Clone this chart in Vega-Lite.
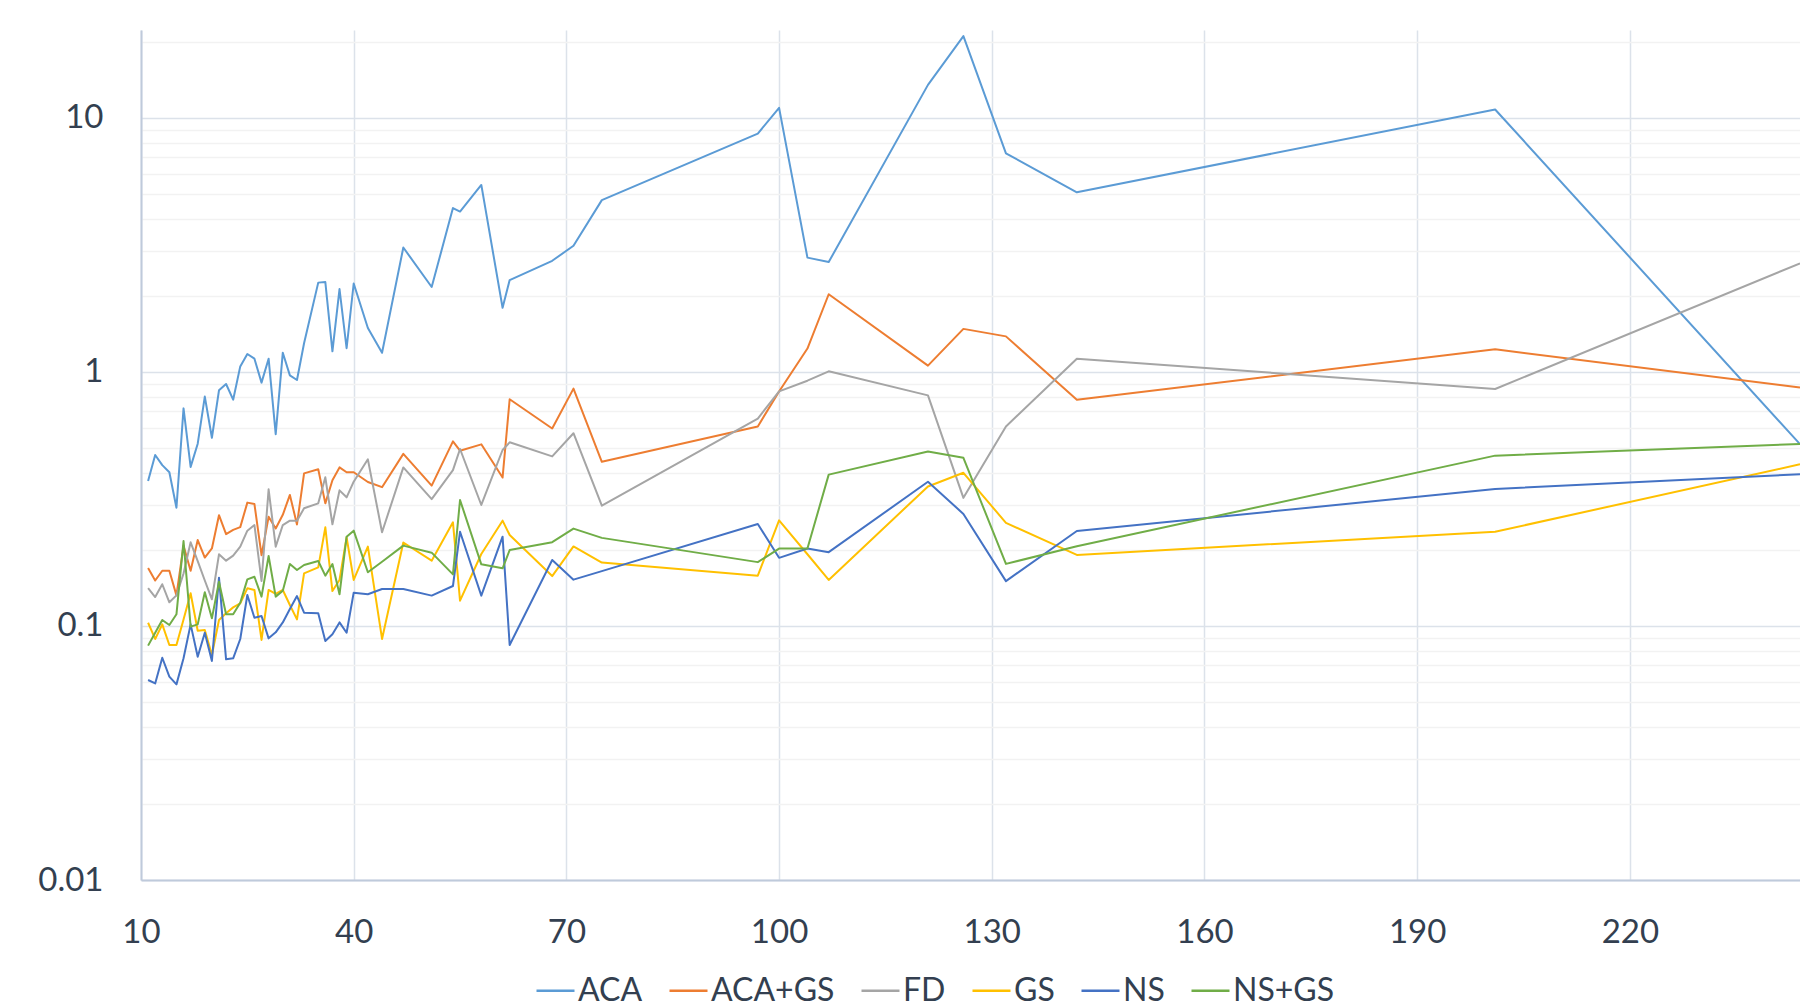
{
  "$schema": "https://vega.github.io/schema/vega-lite/v6.json",
  "width": 1659,
  "height": 850,
  "autosize": {"type": "none"},
  "padding": {"left": 141, "top": 30, "right": 0, "bottom": 127},
  "background": "white",
  "config": {"view": {"stroke": null}, "font": "Lato"},
  "data": {
    "values": [
      {"n": 11, "ACA": 0.372, "ACA+GS": 0.169, "FD": 0.141, "GS": 0.103, "NS": 0.0613, "NS+GS": 0.0837},
      {"n": 12, "ACA": 0.471, "ACA+GS": 0.151, "FD": 0.130, "GS": 0.0889, "NS": 0.0594, "NS+GS": 0.0941},
      {"n": 13, "ACA": 0.430, "ACA+GS": 0.165, "FD": 0.146, "GS": 0.1015, "NS": 0.075, "NS+GS": 0.1056},
      {"n": 14, "ACA": 0.403, "ACA+GS": 0.165, "FD": 0.124, "GS": 0.0842, "NS": 0.0632, "NS+GS": 0.1009},
      {"n": 15, "ACA": 0.292, "ACA+GS": 0.132, "FD": 0.132, "GS": 0.0842, "NS": 0.0589, "NS+GS": 0.1112},
      {"n": 16, "ACA": 0.719, "ACA+GS": 0.207, "FD": 0.161, "GS": 0.106, "NS": 0.0746, "NS+GS": 0.2161},
      {"n": 17, "ACA": 0.423, "ACA+GS": 0.165, "FD": 0.2135, "GS": 0.1345, "NS": 0.1015, "NS+GS": 0.0994},
      {"n": 18, "ACA": 0.522, "ACA+GS": 0.218, "FD": 0.18, "GS": 0.0958, "NS": 0.0757, "NS+GS": 0.1015},
      {"n": 19, "ACA": 0.800, "ACA+GS": 0.186, "FD": 0.151, "GS": 0.0965, "NS": 0.0941, "NS+GS": 0.1357},
      {"n": 20, "ACA": 0.551, "ACA+GS": 0.202, "FD": 0.1274, "GS": 0.0769, "NS": 0.0728, "NS+GS": 0.1072},
      {"n": 21, "ACA": 0.847, "ACA+GS": 0.273, "FD": 0.1915, "GS": 0.1056, "NS": 0.155, "NS+GS": 0.1494},
      {"n": 22, "ACA": 0.897, "ACA+GS": 0.230, "FD": 0.1808, "GS": 0.1122, "NS": 0.0739, "NS+GS": 0.1112},
      {"n": 23, "ACA": 0.778, "ACA+GS": 0.239, "FD": 0.1892, "GS": 0.1184, "NS": 0.0746, "NS+GS": 0.1112},
      {"n": 24, "ACA": 1.052, "ACA+GS": 0.245, "FD": 0.2053, "GS": 0.1228, "NS": 0.0889, "NS+GS": 0.1235},
      {"n": 25, "ACA": 1.177, "ACA+GS": 0.306, "FD": 0.2373, "GS": 0.1407, "NS": 0.1324, "NS+GS": 0.1526},
      {"n": 26, "ACA": 1.128, "ACA+GS": 0.302, "FD": 0.2497, "GS": 0.1386, "NS": 0.1078, "NS+GS": 0.1563},
      {"n": 27, "ACA": 0.908, "ACA+GS": 0.190, "FD": 0.1504, "GS": 0.0881, "NS": 0.1095, "NS+GS": 0.1305},
      {"n": 28, "ACA": 1.128, "ACA+GS": 0.269, "FD": 0.3453, "GS": 0.1386, "NS": 0.0894, "NS+GS": 0.1886},
      {"n": 29, "ACA": 0.569, "ACA+GS": 0.242, "FD": 0.2053, "GS": 0.1337, "NS": 0.0944, "NS+GS": 0.1305},
      {"n": 30, "ACA": 1.191, "ACA+GS": 0.274, "FD": 0.2497, "GS": 0.1386, "NS": 0.1033, "NS+GS": 0.1377},
      {"n": 31, "ACA": 0.970, "ACA+GS": 0.328, "FD": 0.2598, "GS": 0.121, "NS": 0.1166, "NS+GS": 0.1754},
      {"n": 32, "ACA": 0.930, "ACA+GS": 0.251, "FD": 0.2598, "GS": 0.1062, "NS": 0.1312, "NS+GS": 0.1662},
      {"n": 33, "ACA": 1.297, "ACA+GS": 0.399, "FD": 0.2906, "GS": 0.1612, "NS": 0.1128, "NS+GS": 0.1738},
      {"n": 35, "ACA": 2.248, "ACA+GS": 0.414, "FD": 0.304, "GS": 0.1702, "NS": 0.1122, "NS+GS": 0.1802},
      {"n": 36, "ACA": 2.26, "ACA+GS": 0.304, "FD": 0.3849, "GS": 0.2446, "NS": 0.0873, "NS+GS": 0.1578},
      {"n": 37, "ACA": 1.206, "ACA+GS": 0.375, "FD": 0.2513, "GS": 0.1373, "NS": 0.0927, "NS+GS": 0.1754},
      {"n": 38, "ACA": 2.12, "ACA+GS": 0.421, "FD": 0.342, "GS": 0.1518, "NS": 0.1033, "NS+GS": 0.1333},
      {"n": 39, "ACA": 1.24, "ACA+GS": 0.403, "FD": 0.321, "GS": 0.2234, "NS": 0.0941, "NS+GS": 0.2247},
      {"n": 40, "ACA": 2.23, "ACA+GS": 0.403, "FD": 0.37, "GS": 0.1518, "NS": 0.1353, "NS+GS": 0.2373},
      {"n": 42, "ACA": 1.49, "ACA+GS": 0.369, "FD": 0.453, "GS": 0.2053, "NS": 0.1333, "NS+GS": 0.1627},
      {"n": 44, "ACA": 1.19, "ACA+GS": 0.352, "FD": 0.234, "GS": 0.0889, "NS": 0.1398, "NS+GS": 0.179},
      {"n": 47, "ACA": 3.09, "ACA+GS": 0.476, "FD": 0.421, "GS": 0.2131, "NS": 0.1398, "NS+GS": 0.2072},
      {"n": 51, "ACA": 2.16, "ACA+GS": 0.357, "FD": 0.316, "GS": 0.1808, "NS": 0.1317, "NS+GS": 0.1944},
      {"n": 54, "ACA": 4.42, "ACA+GS": 0.533, "FD": 0.411, "GS": 0.2559, "NS": 0.1437, "NS+GS": 0.1597},
      {"n": 55, "ACA": 4.28, "ACA+GS": 0.490, "FD": 0.4975, "GS": 0.1258, "NS": 0.235, "NS+GS": 0.3133},
      {"n": 58, "ACA": 5.45, "ACA+GS": 0.519, "FD": 0.2995, "GS": 0.1921, "NS": 0.1317, "NS+GS": 0.1749},
      {"n": 61, "ACA": 1.79, "ACA+GS": 0.384, "FD": 0.493, "GS": 0.2598, "NS": 0.2247, "NS+GS": 0.1687},
      {"n": 62, "ACA": 2.30, "ACA+GS": 0.781, "FD": 0.5286, "GS": 0.2282, "NS": 0.0842, "NS+GS": 0.1991},
      {"n": 68, "ACA": 2.74, "ACA+GS": 0.599, "FD": 0.4652, "GS": 0.1572, "NS": 0.1819, "NS+GS": 0.2138},
      {"n": 71, "ACA": 3.14, "ACA+GS": 0.860, "FD": 0.574, "GS": 0.2057, "NS": 0.1522, "NS+GS": 0.2418},
      {"n": 75, "ACA": 4.75, "ACA+GS": 0.443, "FD": 0.2975, "GS": 0.1778, "NS": 0.1645, "NS+GS": 0.2223},
      {"n": 97, "ACA": 8.68, "ACA+GS": 0.6105, "FD": 0.6556, "GS": 0.1578, "NS": 0.2522, "NS+GS": 0.1784},
      {"n": 100, "ACA": 10.96, "ACA+GS": 0.838, "FD": 0.8386, "GS": 0.2605, "NS": 0.1855, "NS+GS": 0.2018},
      {"n": 104, "ACA": 2.82, "ACA+GS": 1.237, "FD": 0.924, "GS": 0.1916, "NS": 0.2018, "NS+GS": 0.2018},
      {"n": 107, "ACA": 2.71, "ACA+GS": 2.023, "FD": 1.006, "GS": 0.1518, "NS": 0.1953, "NS+GS": 0.3944},
      {"n": 121, "ACA": 13.5, "ACA+GS": 1.059, "FD": 0.809, "GS": 0.3543, "NS": 0.3696, "NS+GS": 0.4867},
      {"n": 126, "ACA": 21.0, "ACA+GS": 1.478, "FD": 0.3195, "GS": 0.401, "NS": 0.2762, "NS+GS": 0.4592},
      {"n": 132, "ACA": 7.26, "ACA+GS": 1.381, "FD": 0.6105, "GS": 0.2547, "NS": 0.1502, "NS+GS": 0.1756},
      {"n": 142, "ACA": 5.10, "ACA+GS": 0.778, "FD": 1.128, "GS": 0.1904, "NS": 0.2366, "NS+GS": 0.206},
      {"n": 201, "ACA": 10.8, "ACA+GS": 1.228, "FD": 0.857, "GS": 0.235, "NS": 0.3462, "NS+GS": 0.4685},
      {"n": 244, "ACA": 0.52, "ACA+GS": 0.868, "FD": 2.678, "GS": 0.433, "NS": 0.3956, "NS+GS": 0.5207}
    ]
  },
  "transform": [
    {"fold": ["ACA", "ACA+GS", "FD", "GS", "NS", "NS+GS"], "as": ["method", "time"]}
  ],
  "mark": {"type": "line", "strokeWidth": 2, "clip": true, "strokeJoin": "round"},
  "encoding": {
    "x": {
      "field": "n",
      "type": "quantitative",
      "scale": {"domain": [10, 244], "nice": false, "zero": false},
      "axis": {
        "title": null,
        "values": [10, 40, 70, 100, 130, 160, 190, 220],
        "grid": true,
        "gridColor": "#DCE2EA",
        "gridWidth": 1.5,
        "domainColor": "#BFCADB",
        "domainWidth": 2,
        "ticks": false,
        "labelFont": "Lato",
        "labelFontSize": 33,
        "labelColor": "#333F50",
        "labelPadding": 36,
        "labelFlush": false,
        "labelOverlap": false
      }
    },
    "y": {
      "field": "time",
      "type": "quantitative",
      "scale": {"type": "log", "domain": [0.01, 22.2], "nice": false},
      "axis": {
        "title": null,
        "values": [0.01, 0.02, 0.03, 0.04, 0.05, 0.06, 0.07, 0.08, 0.09, 0.1, 0.2, 0.3, 0.4, 0.5, 0.6, 0.7, 0.8, 0.9, 1, 2, 3, 4, 5, 6, 7, 8, 9, 10, 20],
        "labelExpr": "datum.value == 0.01 ? '0.01' : datum.value == 0.1 ? '0.1' : datum.value == 1 ? '1' : datum.value == 10 ? '10' : ''",
        "grid": true,
        "gridColor": {
          "condition": {"test": "datum.value == 0.01 || datum.value == 0.1 || datum.value == 1 || datum.value == 10", "value": "#DCE2EA"},
          "value": "#F2F2F2"
        },
        "gridWidth": 1.5,
        "domainColor": "#BFCADB",
        "domainWidth": 2,
        "ticks": false,
        "labelFont": "Lato",
        "labelFontSize": 33,
        "labelColor": "#333F50",
        "labelPadding": 38,
        "labelOverlap": false,
        "labelFlush": false
      }
    },
    "color": {
      "field": "method",
      "type": "nominal",
      "scale": {
        "domain": ["ACA", "ACA+GS", "FD", "GS", "NS", "NS+GS"],
        "range": ["#5B9BD5", "#ED7D31", "#A5A5A5", "#FFC000", "#4472C4", "#70AD47"]
      },
      "legend": {
        "title": null,
        "orient": "none",
        "legendX": 394,
        "legendY": 940,
        "direction": "horizontal",
        "columns": 6,
        "padding": 0,
        "symbolType": "stroke",
        "symbolSize": 1444,
        "symbolStrokeWidth": 2.5,
        "labelFont": "Lato",
        "labelFontSize": 32,
        "labelColor": "#333F50",
        "labelOffset": 2,
        "columnPadding": 21
      }
    }
  }
}
